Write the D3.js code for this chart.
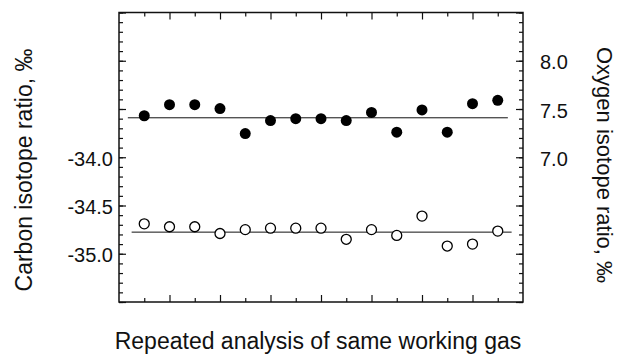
<!DOCTYPE html>
<html>
<head>
<meta charset="utf-8">
<script src="https://cdnjs.cloudflare.com/ajax/libs/d3/7.8.5/d3.min.js"></script>
<style>
	body { margin: 0; background: #fff; }
	text { font-family: "Liberation Sans", Arial, Helvetica, sans-serif; fill: #111; }
</style>
</head>
<body>
<div id="chart"></div>
<script>
// repeated analyses (x index)
var runs = [1, 2, 3, 4, 5, 6, 7, 8, 9, 10, 11, 12, 13, 14, 15];

// open circles, left axis
var carbon = [-34.69, -34.72, -34.72, -34.79, -34.75, -34.735, -34.735, -34.735, -34.85, -34.75, -34.81, -34.61, -34.92, -34.90, -34.765];
// filled circles, right axis
var oxygen = [7.43, 7.545, 7.545, 7.505, 7.245, 7.38, 7.40, 7.40, 7.38, 7.465, 7.26, 7.49, 7.26, 7.555, 7.59];

var carbonMean = -34.776,
	oxygenMean = 7.409;
var carbonLineX = [0.5, 15.55],
	oxygenLineX = [0.35, 15.4];

var carbonTicks = [-34.0, -34.5, -35.0];
var oxygenTicks = [8.0, 7.5, 7.0];

var width = 619,
	height = 362;
var margin = {top: 12.5, left: 119, right: 96, bottom: 60};

var svg = d3.select("#chart")
	.append("svg")
	.attr("width", width)
	.attr("height", height);

var x = d3.scaleLinear().domain([0, 16]).range([margin.left, width - margin.right]);
var yC = d3.scaleLinear().domain([-35.5, -32.5]).range([height - margin.bottom, margin.top]);
var yO = d3.scaleLinear().domain([5.5, 8.5]).range([height - margin.bottom, margin.top]);

var x0 = x.range()[0], x1 = x.range()[1],
	yb = yC.range()[0], yt = yC.range()[1];

// plain hyphen for the minus sign, like the original
var fmt = function (d) { return d3.format(".1f")(d).replace("\u2212", "-"); };

// minor / major ticks, all pointing inwards
function ticks(axis, tr, vals, size) {
	svg.append("g")
		.attr("transform", tr)
		.call(axis.tickValues(vals).tickSize(size).tickFormat(""))
		.call(function (g) {
			g.select(".domain").remove();
			g.selectAll("line").attr("stroke", "#111").attr("stroke-width", 1.2);
		});
}
ticks(d3.axisRight(yC), "translate(" + x0 + ",0)", yC.ticks(30), 4);
ticks(d3.axisRight(yC), "translate(" + x0 + ",0)", yC.ticks(6), 7);
ticks(d3.axisLeft(yO), "translate(" + x1 + ",0)", yO.ticks(30), 4);
ticks(d3.axisLeft(yO), "translate(" + x1 + ",0)", yO.ticks(6), 7);

var minorX = runs.filter(function (d) { return d % 2 == 1; }),
	majorX = runs.filter(function (d) { return d % 2 == 0; });
ticks(d3.axisBottom(x), "translate(0," + yt + ")", minorX, 4);
ticks(d3.axisBottom(x), "translate(0," + yt + ")", majorX, 7);
ticks(d3.axisTop(x), "translate(0," + yb + ")", minorX, 4);
ticks(d3.axisTop(x), "translate(0," + yb + ")", majorX, 7);

// tick labels
svg.append("g")
	.attr("transform", "translate(" + x0 + ",0)")
	.call(d3.axisLeft(yC).tickValues(carbonTicks).tickSize(0).tickPadding(6).tickFormat(fmt))
	.call(function (g) {
		g.select(".domain").remove();
		g.selectAll("text").style("font-size", "20px").attr("fill", "#111").attr("dy", "0.4em");
	});
svg.append("g")
	.attr("transform", "translate(" + x1 + ",0)")
	.call(d3.axisRight(yO).tickValues(oxygenTicks).tickSize(0).tickPadding(17).tickFormat(fmt))
	.call(function (g) {
		g.select(".domain").remove();
		g.selectAll("text").style("font-size", "20px").attr("fill", "#111").attr("dy", "0.4em");
	});

// frame
svg.append("rect")
	.attr("x", x0)
	.attr("y", yt)
	.attr("width", x1 - x0)
	.attr("height", yb - yt)
	.attr("fill", "none")
	.attr("stroke", "#111")
	.attr("stroke-width", 1.5);

// mean lines
svg.append("line")
	.attr("x1", x(oxygenLineX[0])).attr("x2", x(oxygenLineX[1]))
	.attr("y1", yO(oxygenMean)).attr("y2", yO(oxygenMean))
	.attr("stroke", "#111").attr("stroke-width", 1);
svg.append("line")
	.attr("x1", x(carbonLineX[0])).attr("x2", x(carbonLineX[1]))
	.attr("y1", yC(carbonMean)).attr("y2", yC(carbonMean))
	.attr("stroke", "#111").attr("stroke-width", 1);

// points
svg.selectAll(".oxy")
	.data(oxygen)
	.enter().append("circle")
	.attr("class", "oxy")
	.attr("cx", function (d, i) { return x(runs[i]); })
	.attr("cy", function (d) { return yO(d); })
	.attr("r", 5.5)
	.attr("fill", "#000");

svg.selectAll(".carb")
	.data(carbon)
	.enter().append("circle")
	.attr("class", "carb")
	.attr("cx", function (d, i) { return x(runs[i]); })
	.attr("cy", function (d) { return yC(d); })
	.attr("r", 5)
	.attr("fill", "#fff")
	.attr("stroke", "#000")
	.attr("stroke-width", 1.3);

// axis titles
svg.append("text")
	.attr("transform", "translate(32,170) rotate(-90)")
	.attr("text-anchor", "middle")
	.style("font-size", "23px")
	.text("Carbon isotope ratio, ‰");

svg.append("text")
	.attr("transform", "translate(597,165) rotate(90)")
	.attr("text-anchor", "middle")
	.style("font-size", "22px")
	.text("Oxygen isotope ratio, ‰");

svg.append("text")
	.attr("x", 318)
	.attr("y", 349)
	.attr("text-anchor", "middle")
	.style("font-size", "23px")
	.text("Repeated analysis of same working gas");
</script>
</body>
</html>
